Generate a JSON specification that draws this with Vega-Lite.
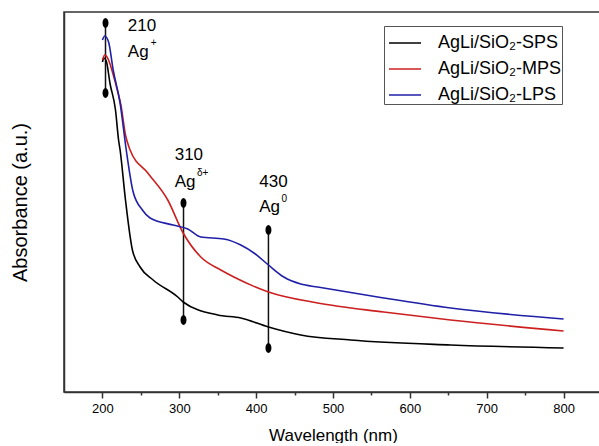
{
  "$schema": "https://vega.github.io/schema/vega-lite/v6.json",
  "width": 538,
  "height": 380,
  "padding": {"left": 10, "top": 12, "right": 0, "bottom": 0},
  "background": "white",
  "config": {
    "font": "Liberation Sans",
    "view": {"stroke": "#333333", "strokeWidth": 1.5}
  },
  "datasets": {
    "spectra": [
      {"series": "AgLi/SiO₂-SPS", "wl": 200, "abs": 330},
      {"series": "AgLi/SiO₂-SPS", "wl": 202, "abs": 334},
      {"series": "AgLi/SiO₂-SPS", "wl": 205, "abs": 331},
      {"series": "AgLi/SiO₂-SPS", "wl": 210, "abs": 308},
      {"series": "AgLi/SiO₂-SPS", "wl": 217, "abs": 282},
      {"series": "AgLi/SiO₂-SPS", "wl": 221, "abs": 252},
      {"series": "AgLi/SiO₂-SPS", "wl": 223, "abs": 242},
      {"series": "AgLi/SiO₂-SPS", "wl": 230, "abs": 192},
      {"series": "AgLi/SiO₂-SPS", "wl": 239, "abs": 142},
      {"series": "AgLi/SiO₂-SPS", "wl": 249, "abs": 125},
      {"series": "AgLi/SiO₂-SPS", "wl": 266, "abs": 112},
      {"series": "AgLi/SiO₂-SPS", "wl": 298, "abs": 95},
      {"series": "AgLi/SiO₂-SPS", "wl": 305, "abs": 90},
      {"series": "AgLi/SiO₂-SPS", "wl": 350, "abs": 77},
      {"series": "AgLi/SiO₂-SPS", "wl": 380, "abs": 74},
      {"series": "AgLi/SiO₂-SPS", "wl": 416, "abs": 65},
      {"series": "AgLi/SiO₂-SPS", "wl": 458, "abs": 57},
      {"series": "AgLi/SiO₂-SPS", "wl": 523, "abs": 52},
      {"series": "AgLi/SiO₂-SPS", "wl": 653, "abs": 47},
      {"series": "AgLi/SiO₂-SPS", "wl": 800, "abs": 44},
      {"series": "AgLi/SiO₂-MPS", "wl": 200, "abs": 332},
      {"series": "AgLi/SiO₂-MPS", "wl": 203, "abs": 337},
      {"series": "AgLi/SiO₂-MPS", "wl": 208, "abs": 332},
      {"series": "AgLi/SiO₂-MPS", "wl": 213, "abs": 320},
      {"series": "AgLi/SiO₂-MPS", "wl": 220, "abs": 300},
      {"series": "AgLi/SiO₂-MPS", "wl": 224, "abs": 287},
      {"series": "AgLi/SiO₂-MPS", "wl": 230, "abs": 257},
      {"series": "AgLi/SiO₂-MPS", "wl": 236, "abs": 242},
      {"series": "AgLi/SiO₂-MPS", "wl": 259, "abs": 219},
      {"series": "AgLi/SiO₂-MPS", "wl": 285, "abs": 192},
      {"series": "AgLi/SiO₂-MPS", "wl": 305, "abs": 159},
      {"series": "AgLi/SiO₂-MPS", "wl": 328, "abs": 135},
      {"series": "AgLi/SiO₂-MPS", "wl": 354, "abs": 122},
      {"series": "AgLi/SiO₂-MPS", "wl": 371, "abs": 115},
      {"series": "AgLi/SiO₂-MPS", "wl": 416, "abs": 100},
      {"series": "AgLi/SiO₂-MPS", "wl": 480, "abs": 89},
      {"series": "AgLi/SiO₂-MPS", "wl": 566, "abs": 80},
      {"series": "AgLi/SiO₂-MPS", "wl": 653, "abs": 72},
      {"series": "AgLi/SiO₂-MPS", "wl": 800, "abs": 61},
      {"series": "AgLi/SiO₂-LPS", "wl": 200, "abs": 352},
      {"series": "AgLi/SiO₂-LPS", "wl": 203, "abs": 356},
      {"series": "AgLi/SiO₂-LPS", "wl": 208, "abs": 350},
      {"series": "AgLi/SiO₂-LPS", "wl": 214, "abs": 322},
      {"series": "AgLi/SiO₂-LPS", "wl": 223, "abs": 289},
      {"series": "AgLi/SiO₂-LPS", "wl": 231, "abs": 242},
      {"series": "AgLi/SiO₂-LPS", "wl": 240, "abs": 200},
      {"series": "AgLi/SiO₂-LPS", "wl": 252, "abs": 182},
      {"series": "AgLi/SiO₂-LPS", "wl": 262, "abs": 174},
      {"series": "AgLi/SiO₂-LPS", "wl": 292, "abs": 167},
      {"series": "AgLi/SiO₂-LPS", "wl": 311, "abs": 163},
      {"series": "AgLi/SiO₂-LPS", "wl": 328, "abs": 155},
      {"series": "AgLi/SiO₂-LPS", "wl": 358, "abs": 153},
      {"series": "AgLi/SiO₂-LPS", "wl": 380, "abs": 147},
      {"series": "AgLi/SiO₂-LPS", "wl": 399, "abs": 138},
      {"series": "AgLi/SiO₂-LPS", "wl": 416, "abs": 127},
      {"series": "AgLi/SiO₂-LPS", "wl": 436, "abs": 115},
      {"series": "AgLi/SiO₂-LPS", "wl": 458, "abs": 108},
      {"series": "AgLi/SiO₂-LPS", "wl": 480, "abs": 105},
      {"series": "AgLi/SiO₂-LPS", "wl": 566, "abs": 94},
      {"series": "AgLi/SiO₂-LPS", "wl": 653, "abs": 84},
      {"series": "AgLi/SiO₂-LPS", "wl": 800, "abs": 73}
    ],
    "markers": [
      {"peak": "210", "wl": 204, "abs": 369, "bottom": 299},
      {"peak": "310", "wl": 305.5, "abs": 189, "bottom": 72},
      {"peak": "430", "wl": 416, "abs": 162, "bottom": 44}
    ],
    "dots": [
      {"wl": 204, "abs": 369},
      {"wl": 204, "abs": 299},
      {"wl": 305.5, "abs": 189},
      {"wl": 305.5, "abs": 72},
      {"wl": 416, "abs": 162},
      {"wl": 416, "abs": 44}
    ],
    "labels": [
      {"wl": 233, "abs": 361, "text": "210"},
      {"wl": 233, "abs": 335, "text": "Ag"},
      {"wl": 294, "abs": 232, "text": "310"},
      {"wl": 294, "abs": 205, "text": "Ag"},
      {"wl": 404, "abs": 205, "text": "430"},
      {"wl": 404, "abs": 180, "text": "Ag"}
    ],
    "sups": [
      {"wl": 263, "abs": 346, "text": "+"},
      {"wl": 323, "abs": 216, "text": "δ+"},
      {"wl": 433, "abs": 190, "text": "0"}
    ]
  },
  "encoding": {
    "x": {
      "field": "wl", "type": "quantitative",
      "scale": {"domain": [150, 850], "nice": false, "zero": false},
      "axis": {
        "title": "Wavelength (nm)",
        "values": [200, 250, 300, 350, 400, 450, 500, 550, 600, 650, 700, 750, 800, 850],
        "labelExpr": "datum.value % 100 === 0 ? datum.label : ''",
        "grid": false,
        "domainColor": "#333333",
        "domainWidth": 1.5,
        "tickColor": "#333333",
        "tickWidth": 1.5,
        "tickSize": {"condition": {"test": "datum.value % 100 === 0", "value": 6}, "value": 3},
        "labelFontSize": 13,
        "labelColor": "#000000",
        "labelPadding": 4,
        "titleFontSize": 17,
        "titleFontWeight": "normal",
        "titleColor": "#000000",
        "titlePadding": 12
      }
    },
    "y": {
      "field": "abs", "type": "quantitative",
      "scale": {"domain": [0, 380], "nice": false, "zero": false},
      "axis": {
        "title": "Absorbance (a.u.)",
        "labels": false,
        "ticks": false,
        "grid": false,
        "domainColor": "#333333",
        "domainWidth": 1.5,
        "titleFontSize": 20,
        "titleFontWeight": "normal",
        "titleColor": "#000000",
        "titlePadding": 34
      }
    }
  },
  "layer": [
    {
      "data": {"name": "markers"},
      "mark": {"type": "rule", "color": "#111111", "strokeWidth": 1.5},
      "encoding": {
        "y2": {"field": "bottom"}
      }
    },
    {
      "data": {"name": "dots"},
      "mark": {"type": "point", "shape": "M0,-1 A0.6,1 0 1,1 0,1 A0.6,1 0 1,1 0,-1 Z", "filled": true, "color": "#000000", "size": 100, "opacity": 1}
    },
    {
      "data": {"name": "spectra"},
      "mark": {"type": "line", "interpolate": "monotone", "strokeWidth": 1.6},
      "encoding": {
        "color": {
          "field": "series", "type": "nominal",
          "scale": {
            "domain": ["AgLi/SiO₂-SPS", "AgLi/SiO₂-MPS", "AgLi/SiO₂-LPS"],
            "range": ["#000000", "#cc1f1f", "#1f1fa8"]
          },
          "legend": {
            "title": null,
            "orient": "none",
            "legendX": 320,
            "legendY": 14,
            "strokeColor": "#555555",
            "fillColor": "white",
            "padding": 0,
            "symbolType": "stroke",
            "symbolSize": 1024,
            "symbolStrokeWidth": 1.5,
            "symbolOffset": 4,
            "labelFontSize": 18,
            "labelColor": "#000000",
            "labelOffset": 16,
            "rowPadding": -3,
            "labelLimit": 300
          }
        }
      }
    },
    {
      "data": {"name": "labels"},
      "mark": {"type": "text", "align": "left", "baseline": "alphabetic", "fontSize": 17, "color": "#000000"},
      "encoding": {
        "text": {"field": "text"}
      }
    },
    {
      "data": {"name": "sups"},
      "mark": {"type": "text", "align": "left", "baseline": "alphabetic", "fontSize": 10, "color": "#000000"},
      "encoding": {
        "text": {"field": "text"}
      }
    }
  ]
}
